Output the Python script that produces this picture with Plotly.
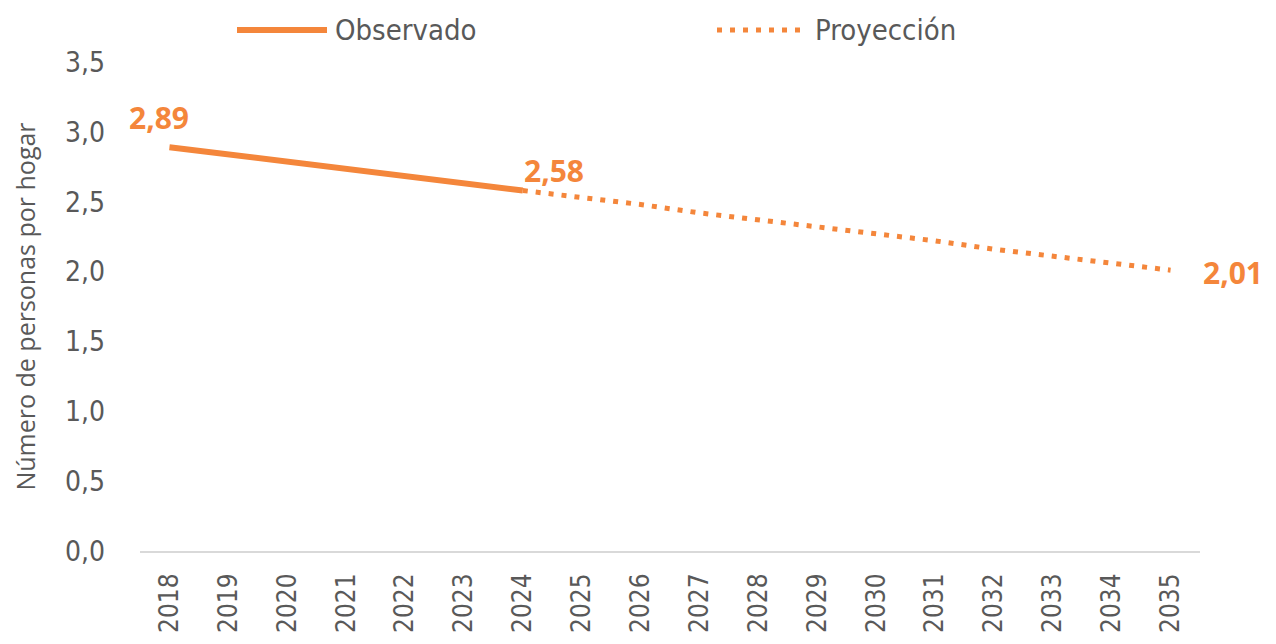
import plotly.graph_objects as go

# Data
years_obs = ['2018', '2019', '2020', '2021', '2022', '2023', '2024']
vals_obs = [2.89, 2.84, 2.79, 2.74, 2.69, 2.63, 2.58]

years_proj = ['2024', '2025', '2026', '2027', '2028', '2029', '2030',
              '2031', '2032', '2033', '2034', '2035']
vals_proj = [2.58, 2.53, 2.48, 2.42, 2.37, 2.32, 2.27, 2.22, 2.16, 2.11, 2.06, 2.01]

all_years = [str(y) for y in range(2018, 2036)]

ORANGE = '#F4863B'
GREY = '#595959'
TICK_FONT = 'DejaVu Sans Condensed'

# page body adds an 8px offset, so the figure is placed 8px up/left
OFF = 8
W, H = 1276 - OFF, 644 - OFF
L, T = 140 - OFF, 62 - OFF
R, B = W - (1200 - OFF), H - (551 - OFF)
PW, PH = W - L - R, H - T - B


def px(x):
    return (x - OFF - L) / PW


def py(y):
    return (H - B - (y - OFF)) / PH


fig = go.Figure()

fig.add_trace(go.Scatter(
    x=years_obs, y=vals_obs, mode='lines', name='Observado',
    line=dict(color=ORANGE, width=6), showlegend=False,
))

fig.add_trace(go.Scatter(
    x=years_proj, y=vals_proj, mode='lines', name='Proyección',
    line=dict(color=ORANGE, width=5, dash='5px,8px'), showlegend=False,
))


# value labels (first, last observed, last projected)
def fmt(v):
    return f'{v:.2f}'.replace('.', ',')


labels = [
    (years_obs[0], vals_obs[0], -10, 30, 'center'),
    (years_obs[-1], vals_obs[-1], 31, 20, 'center'),
    (years_proj[-1], vals_proj[-1], 30, -2, 'left'),
]
for x, y, dx, dy, anchor in labels:
    fig.add_annotation(x=all_years.index(x), y=y, text=f'<b>{fmt(y)}</b>', showarrow=False,
                       xshift=dx, yshift=dy, xanchor=anchor,
                       font=dict(family='Open Sans', size=30, color=ORANGE))

# legend drawn by hand (long samples like the original)
fig.add_shape(type='line', xref='paper', yref='paper', x0=px(237), x1=px(327),
              y0=py(30), y1=py(30), line=dict(color=ORANGE, width=6))
fig.add_shape(type='line', xref='paper', yref='paper', x0=px(717), x1=px(800),
              y0=py(30), y1=py(30), line=dict(color=ORANGE, width=5, dash='5px,8px'))
for name, x0 in [('Observado', 333), ('Proyección', 813)]:
    fig.add_annotation(xref='paper', yref='paper', x=px(x0), y=py(30), text=name,
                       xanchor='left', yanchor='middle', showarrow=False,
                       font=dict(family=TICK_FONT, size=29, color=GREY))

fig.update_layout(
    width=W, height=H,
    margin=dict(l=L, r=R, t=T, b=B),
    paper_bgcolor='white', plot_bgcolor='white',
    separators=',.',
    showlegend=False,
    xaxis=dict(type='category', categoryorder='array', categoryarray=all_years,
               range=[-0.5, 17.5], automargin=False,
               tickangle=-90, showgrid=False, showline=True, linecolor='#d9d9d9',
               linewidth=2, ticks='', ticklabelstandoff=10,
               tickfont=dict(family=TICK_FONT, size=26, color=GREY)),
    yaxis=dict(range=[0, 3.5], dtick=0.5, tickformat='.1f', showgrid=False,
               zeroline=False, showline=False, ticks='', automargin=False,
               ticklabelstandoff=34,
               tickfont=dict(family=TICK_FONT, size=28, color=GREY),
               title=dict(text='Número de personas por hogar', standoff=22,
                          font=dict(family='Open Sans', size=25, color=GREY))),
)

fig.write_html('out.html')
